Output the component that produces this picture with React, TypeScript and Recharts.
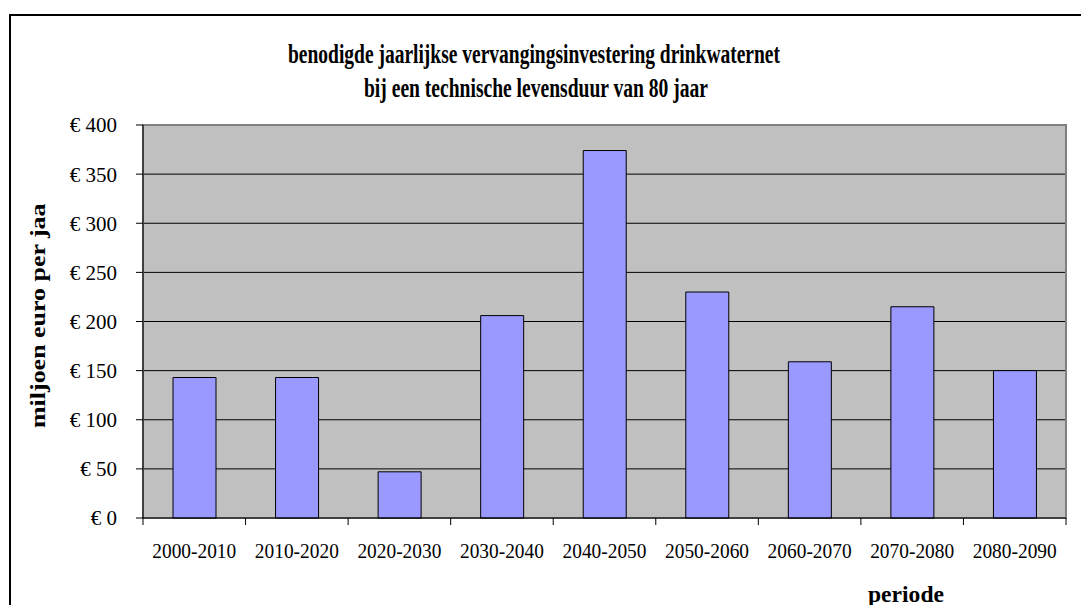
import { BarChart, Bar, XAxis, YAxis, CartesianGrid, ReferenceArea } from 'recharts'

const periods = [
  '2000-2010',
  '2010-2020',
  '2020-2030',
  '2030-2040',
  '2040-2050',
  '2050-2060',
  '2060-2070',
  '2070-2080',
  '2080-2090',
]
// miljoen euro per jaar
const investments = [143, 143, 47, 206, 374, 230, 159, 215, 150]
const yTicks = [0, 50, 100, 150, 200, 250, 300, 350, 400]
const titleLines = [
  'benodigde jaarlijkse vervangingsinvestering drinkwaternet',
  'bij een technische levensduur van 80 jaar',
]
const yLabel = 'miljoen euro per jaar'
const xLabel = 'periode'

const data = periods.map((periode, i) => ({ periode, waarde: investments[i] }))

const W = 1089
const H = 613
const PLOT_LEFT = 143
const PLOT_RIGHT = 23
const PLOT_TOP = 125
const PLOT_BOTTOM = 518
const X_AXIS_H = 30
const BAND = (W - PLOT_LEFT - PLOT_RIGHT) / periods.length
const FONT = '"Liberation Serif", "Times New Roman", serif'

// Excel-style: tick marks sit between categories, label in the middle
function PeriodTick(props: any) {
  const { x, y, payload, index } = props
  const last = index === periods.length - 1
  return (
    <g>
      <line x1={x - BAND / 2} x2={x - BAND / 2} y1={y} y2={y + 7} stroke="#000" />
      {last && <line x1={x + BAND / 2} x2={x + BAND / 2} y1={y} y2={y + 7} stroke="#000" />}
      <text
        x={x}
        y={y + 40}
        textAnchor="middle"
        fontFamily={FONT}
        fontSize={20}
        fill="#000"
        textLength={84}
        lengthAdjust="spacingAndGlyphs"
      >
        {payload.value}
      </text>
    </g>
  )
}

export default function App() {
  return (
    <div
      style={{
        position: 'relative',
        width: W,
        height: H,
        margin: -8,
        overflow: 'hidden',
        background: '#fff',
      }}
    >
      <div
        style={{
          position: 'absolute',
          left: 9,
          top: 14,
          width: 1200,
          height: 700,
          border: '2px solid #000',
        }}
      />
      <div style={{ position: 'absolute', left: 0, top: 0 }}>
        <BarChart
          width={W}
          height={H}
          data={data}
          margin={{ top: PLOT_TOP, right: PLOT_RIGHT, bottom: H - PLOT_BOTTOM - X_AXIS_H, left: 0 }}
        >
          <CartesianGrid fill="#C0C0C0" vertical={false} stroke="#000" strokeOpacity={1} />
          <ReferenceArea y1={0} y2={400} fill="none" stroke="#808080" strokeWidth={2} ifOverflow="visible" />
          <XAxis
            dataKey="periode"
            height={X_AXIS_H}
            interval={0}
            tickLine={false}
            tickSize={0}
            tickMargin={0}
            axisLine={{ stroke: '#000' }}
            tick={<PeriodTick />}
          />
          <YAxis
            width={PLOT_LEFT}
            domain={[0, 400]}
            ticks={yTicks}
            interval={0}
            tickSize={7}
            tickMargin={19}
            tickLine={{ stroke: '#000' }}
            axisLine={{ stroke: '#000' }}
            tickFormatter={(v) => `€ ${v}`}
            tick={{ fill: '#000', fontFamily: FONT, fontSize: 21 }}
          />
          <Bar
            dataKey="waarde"
            fill="#9999FF"
            stroke="#000"
            strokeWidth={1}
            barSize={43}
            isAnimationActive={false}
          />
        </BarChart>
      </div>
      <svg
        width={W}
        height={H}
        style={{ position: 'absolute', left: 0, top: 0, pointerEvents: 'none' }}
      >
        <defs>
          <clipPath id="ylabel-clip">
            <rect x={0} y={204} width={100} height={300} />
          </clipPath>
        </defs>
        <text
          x={534}
          y={63}
          textAnchor="middle"
          fontFamily={FONT}
          fontWeight="bold"
          fontSize={27}
          textLength={492}
          lengthAdjust="spacingAndGlyphs"
        >
          {titleLines[0]}
        </text>
        <text
          x={536}
          y={97}
          textAnchor="middle"
          fontFamily={FONT}
          fontWeight="bold"
          fontSize={27}
          textLength={344}
          lengthAdjust="spacingAndGlyphs"
        >
          {titleLines[1]}
        </text>
        <g clipPath="url(#ylabel-clip)">
          <text
            transform="translate(45 428) rotate(-90)"
            x={0}
            y={0}
            fontFamily={FONT}
            fontWeight="bold"
            fontSize={22}
            textLength={236}
            lengthAdjust="spacingAndGlyphs"
          >
            {yLabel}
          </text>
        </g>
        <text
          x={868}
          y={602}
          fontFamily={FONT}
          fontWeight="bold"
          fontSize={23}
          textLength={76}
          lengthAdjust="spacingAndGlyphs"
        >
          {xLabel}
        </text>
      </svg>
    </div>
  )
}
